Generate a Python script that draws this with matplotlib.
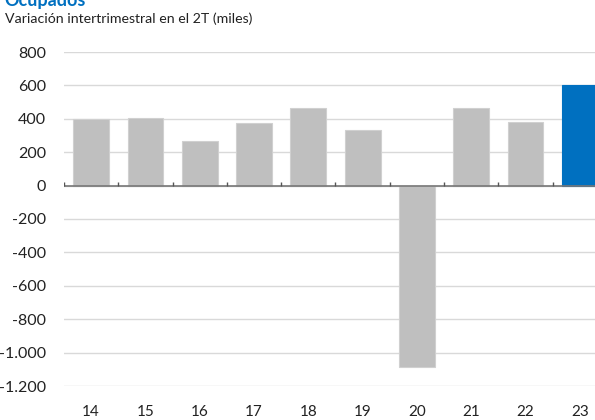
import matplotlib
matplotlib.use("Agg")
import matplotlib.pyplot as plt
from matplotlib.ticker import FuncFormatter
import matplotlib.transforms as mtransforms

categories = ["14", "15", "16", "17", "18", "19", "20", "21", "22", "23"]
values = [397, 407, 265, 373, 467, 330, -1084, 462, 383, 600]
colors = ["#BFBFBF"] * 9 + ["#0070C0"]
yticks = [800, 600, 400, 200, 0, -200, -400, -600, -800, -1000, -1200]

plt.rcParams['font.family'] = ['Lato', 'DejaVu Sans']

fig = plt.figure(figsize=(5.95, 4.2), dpi=100)
ax = fig.add_axes([64/595, 1-386/420, (595-64)/595, (386-52)/420])

x = list(range(len(categories)))
ax.bar(x, values, width=0.66, color=colors, edgecolor=["#D0D0D0"]*9 + ["#0070C0"], linewidth=0.8, zorder=3)

ax.set_ylim(-1200, 800)
ax.set_xlim(-0.5, 9.28)
ax.set_yticks(yticks)
ax.yaxis.set_major_formatter(FuncFormatter(lambda v, p: f"{int(v):,}".replace(",", ".")))
ax.grid(axis='y', color='#D9D9D9', linewidth=1.0, zorder=0)
ax.set_xticks(x)
ax.set_xticklabels(categories)
ax.tick_params(axis='x', length=0, pad=14, labelsize=11, colors='#222222')
ax.tick_params(axis='y', length=0, pad=13, labelsize=11.5, colors='#222222')
for s in ax.spines.values():
    s.set_visible(False)

# zero axis line with small upward category-boundary ticks
ax.axhline(0, color='#777777', linewidth=1.2, zorder=4)
boundaries = [i - 0.5 for i in range(len(categories) + 1)]
ax.vlines(boundaries, 0, 24, color='#555555', linewidth=1, zorder=4)

fig.text(0.008, 0.985, "Ocupados", color="#0070C0", fontsize=13, fontweight='bold', va='baseline', ha='left')
fig.text(0.008, 0.945, "Variación intertrimestral en el 2T (miles)", color="#222222", fontsize=10.2, va='baseline', ha='left')

fig.savefig("out.png", dpi=100)
